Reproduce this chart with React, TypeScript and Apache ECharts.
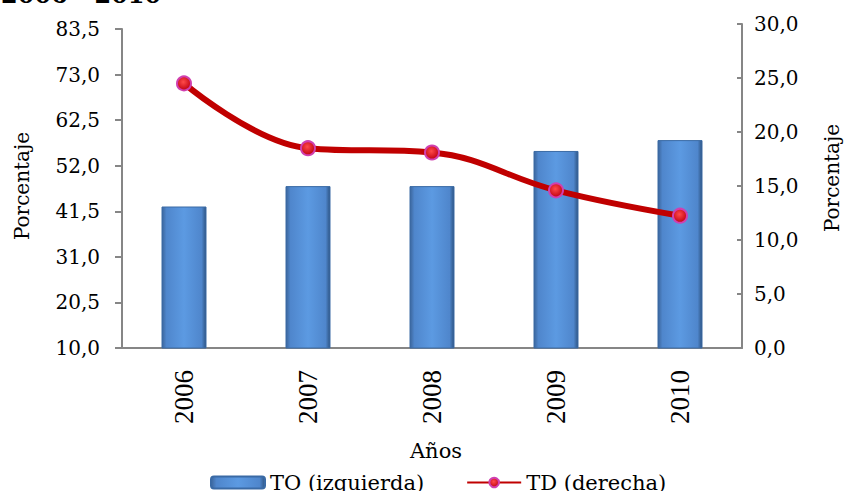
import React, { useEffect, useRef } from "react";
import * as echarts from "echarts";

const categories = ["2006", "2007", "2008", "2009", "2010"];
const toValues = [42.6, 47.3, 47.3, 55.4, 57.9];
const tdValues = [24.5, 18.5, 18.1, 14.6, 12.25];
const leftTicks = { min: 10, max: 83.5, interval: 10.5 };
const rightTicks = { min: 0, max: 30, interval: 5 };

const SERIF = "DejaVu Serif";
const fmt = (v: number) => v.toFixed(1).replace(".", ",");

export default function App() {
  const ref = useRef<HTMLDivElement>(null);
  useEffect(() => {
    if (!ref.current) return;
    const chart = echarts.init(ref.current, undefined, { renderer: "svg" });
    const barColor = {
      type: "linear",
      x: 0, y: 0, x2: 1, y2: 0,
      colorStops: [
        { offset: 0, color: "#3b659b" },
        { offset: 0.1, color: "#4f86cc" },
        { offset: 0.5, color: "#5c9ae2" },
        { offset: 0.9, color: "#4f86cc" },
        { offset: 1, color: "#2e5584" },
      ],
    };
    const axisLine = { show: true, lineStyle: { color: "#868686", width: 2 } };
    chart.setOption({
      animation: false,
      backgroundColor: "#ffffff",
      textStyle: { fontFamily: SERIF, color: "#000" },
      grid: [
        { left: 122, right: 102, top: 29, bottom: 143 },
        { left: 122, right: 102, top: 24, bottom: 143 },
      ],
      xAxis: [
        {
          type: "category",
          gridIndex: 0,
          data: categories,
          axisLine: { ...axisLine, onZero: false },
          axisTick: { show: false },
          axisLabel: {
            rotate: 90,
            margin: 22,
            fontFamily: "Liberation Serif",
            fontSize: 27,
            color: "#000",
          },
        },
        {
          type: "category",
          gridIndex: 1,
          data: categories,
          show: false,
        },
      ],
      yAxis: [
        {
          type: "value",
          gridIndex: 0,
          position: "left",
          min: leftTicks.min,
          max: leftTicks.max,
          interval: leftTicks.interval,
          axisLine,
          axisTick: { show: true, length: 7, lineStyle: { color: "#868686", width: 2 } },
          splitLine: { show: false },
          axisLabel: {
            formatter: fmt,
            fontFamily: SERIF,
            fontSize: 20,
            color: "#000",
            margin: 22,
          },
        },
        {
          type: "value",
          gridIndex: 1,
          position: "right",
          min: rightTicks.min,
          max: rightTicks.max,
          interval: rightTicks.interval,
          axisLine,
          axisTick: { show: true, inside: true, length: 5, lineStyle: { color: "#868686", width: 2 } },
          splitLine: { show: false },
          axisLabel: {
            formatter: fmt,
            fontFamily: SERIF,
            fontSize: 20,
            color: "#000",
            margin: 12,
          },
        },
      ],
      legend: {
        left: 205,
        top: 467,
        itemGap: 42,
        itemWidth: 54,
        itemHeight: 12,
        textStyle: { fontFamily: SERIF, fontSize: 21, color: "#000" },
        data: ["TO (izquierda)", "TD (derecha)"],
      },
      series: [
        {
          name: "TO (izquierda)",
          type: "bar",
          xAxisIndex: 0,
          yAxisIndex: 0,
          data: toValues,
          barWidth: 45,
          itemStyle: { color: barColor, borderColor: "#3a6aa5", borderWidth: 1 },
        },
        {
          name: "TD (derecha)",
          type: "line",
          xAxisIndex: 1,
          yAxisIndex: 1,
          data: tdValues,
          smooth: 0.4,
          lineStyle: { color: "#c00000", width: 6 },
          symbol: "circle",
          symbolSize: 14,
          itemStyle: {
            color: {
              type: "radial",
              x: 0.45, y: 0.4, r: 0.6,
              colorStops: [
                { offset: 0, color: "#ff4a4a" },
                { offset: 1, color: "#c00010" },
              ],
            },
            borderColor: "#d040b0",
            borderWidth: 2,
          },
          z: 5,
        },
      ],
      graphic: [
        {
          type: "text",
          x: 1,
          y: -6,
          style: {
            text: "2006 - 2010",
            font: `bold 24px "${SERIF}"`,
            fill: "#000",
            verticalAlign: "middle",
          },
        },
        {
          type: "text",
          x: 436,
          y: 451,
          style: {
            text: "Años",
            font: `21px "${SERIF}"`,
            fill: "#000",
            align: "center",
            verticalAlign: "middle",
          },
        },
        {
          type: "text",
          x: 22,
          y: 186,
          rotation: Math.PI / 2,
          style: {
            text: "Porcentaje",
            font: `20px "${SERIF}"`,
            fill: "#000",
            align: "center",
            verticalAlign: "middle",
          },
        },
        {
          type: "text",
          x: 832,
          y: 178,
          rotation: Math.PI / 2,
          style: {
            text: "Porcentaje",
            font: `20px "${SERIF}"`,
            fill: "#000",
            align: "center",
            verticalAlign: "middle",
          },
        },
      ],
    });
    return () => chart.dispose();
  }, []);
  return (
    <div
      ref={ref}
      style={{ position: "fixed", left: 0, top: 0, width: 844, height: 491 }}
    />
  );
}
